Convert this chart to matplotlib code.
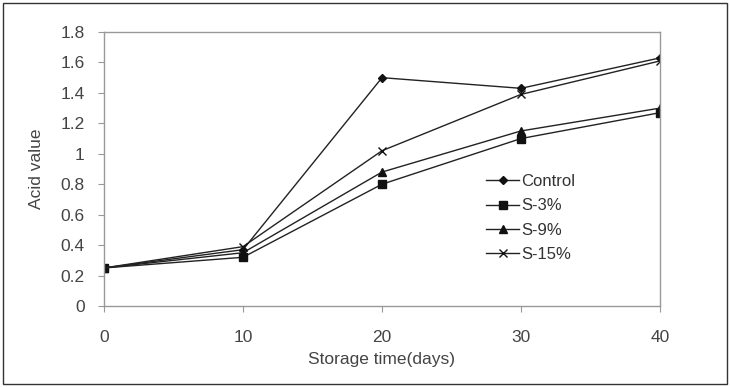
import matplotlib
matplotlib.use("Agg")
import matplotlib.pyplot as plt

days = [0, 10, 20, 30, 40]
control = [0.25, 0.37, 1.50, 1.43, 1.63]
s3 = [0.25, 0.32, 0.80, 1.10, 1.27]
s9 = [0.25, 0.35, 0.88, 1.15, 1.30]
s15 = [0.25, 0.39, 1.02, 1.39, 1.61]
labels = ["Control", "S-3%", "S-9%", "S-15%"]
yticks = [0, 0.2, 0.4, 0.6, 0.8, 1, 1.2, 1.4, 1.6, 1.8]
ytick_labels = ["0", "0.2", "0.4", "0.6", "0.8", "1", "1.2", "1.4", "1.6", "1.8"]

plt.rcParams['font.family'] = ['Liberation Sans', 'DejaVu Sans']
fig = plt.figure(figsize=(7.3, 3.87), dpi=100)
W, H = 730, 387
ax = fig.add_axes([104 / W, 1 - 306 / H, (660 - 104) / W, (306 - 32) / H])

# outer frame
fig.patches.append(plt.Rectangle((3 / W, 3 / H), 724 / W, 381 / H, transform=fig.transFigure,
                                 fill=False, edgecolor='#333333', linewidth=1.0))

styles = [('D', 4.5), ('s', 5.5), ('^', 5.5), ('x', 6)]
for data, lab, (m, ms) in zip([control, s3, s9, s15], labels, styles):
    ax.plot(days, data, color='#222222', linewidth=1.0, marker=m, markersize=ms,
            markeredgecolor='#111111', markerfacecolor='#111111', markeredgewidth=1.0,
            label=lab)

ax.set_xlim(0, 40)
ax.set_ylim(0, 1.8)
ax.set_xticks(days)
ax.set_yticks(yticks)
ax.set_yticklabels(ytick_labels)
for s in ax.spines.values():
    s.set_color('#999999')
    s.set_linewidth(1.0)
ax.tick_params(axis='both', colors='#999999', labelcolor='#444444', labelsize=12.5, length=4)
ax.tick_params(axis='x', pad=13)
ax.tick_params(axis='y', pad=10)
ax.set_xlabel("Storage time(days)", fontsize=12.5, color='#444444', labelpad=5)
ax.set_ylabel("Acid value", fontsize=12.5, color='#444444', labelpad=12)

leg = ax.legend(loc='upper left', bbox_to_anchor=(0.675, 0.505), frameon=False, fontsize=12,
                handlelength=2.0, handletextpad=0.1, labelspacing=0.55, borderaxespad=0)
for t in leg.get_texts():
    t.set_color('#333333')

fig.savefig("out.png", dpi=100)
